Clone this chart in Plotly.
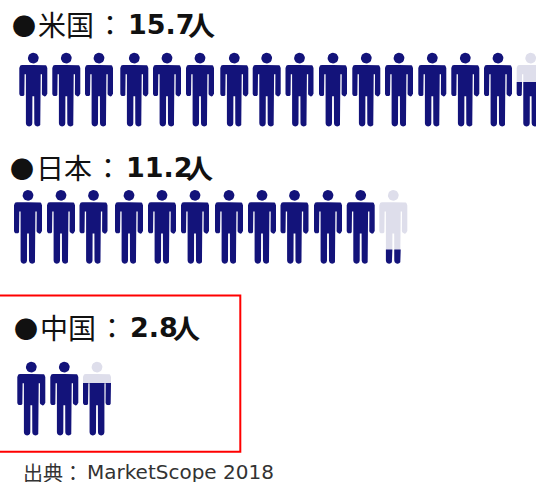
import math
import plotly.graph_objects as go

countries = ["米国", "日本", "中国"]
values = [15.7, 11.2, 2.8]
partial_fill = [0.6, 0.19, 0.71]
row_centers = [
    [33.3, 66.3, 99, 134.3, 167, 200, 234.3, 266.7, 299.5, 333, 366.3, 399, 432.3, 465.3, 498, 530.7],
    [28, 61, 93.5, 129, 162, 195, 229, 262, 294.5, 328, 360.7, 393.3],
    [31.3, 64.3, 97],
]
row_tops = [52.7, 190, 361.7]
label_pos = [(10, 24), (8, 167), (12, 327)]
DARK = "#13137a"
LIGHT = "#dedeeb"
JP = "Noto Sans CJK JP"
LATIN = "DejaVu Sans"


def arc(cx, cy, r, a0, a1, n=6):
    return [(cx + r * math.cos(math.radians(a0 + (a1 - a0) * i / n)),
             cy + r * math.sin(math.radians(a0 + (a1 - a0) * i / n))) for i in range(n + 1)]


def head():
    return arc(0, 5.4, 5.4, 0, 360, 24)


def body_half(side):
    p = [(0, 12.2)]
    p += [(x * side, y) for x, y in arc(11, 15.2, 3, -90, 0)]
    p += [(14 * side, 41)]
    p += [(x * side, y) for x, y in arc(11.3, 41, 2.7, 0, 180)]
    p += [(8.7 * side, 21.5), (7.4 * side, 21.5)]
    p += [(7.4 * side, 70.6)]
    p += [(x * side, y) for x, y in arc(4.2, 70.6, 3.2, 0, 180)]
    p += [(0.9 * side, 43.5), (0, 43.5)]
    return p


def body():
    return body_half(1) + body_half(-1)[::-1]


def clip_below(poly, y0):
    out = []
    for i in range(len(poly)):
        a, b = poly[i], poly[(i + 1) % len(poly)]
        ina, inb = a[1] >= y0, b[1] >= y0
        if ina:
            out.append(a)
        if ina != inb:
            t = (y0 - a[1]) / (b[1] - a[1])
            out.append((a[0] + t * (b[0] - a[0]), y0))
    return out


H = 73.5
fig = go.Figure()


def add_polys(polys, color, name):
    xs, ys = [], []
    for poly, cx, top in polys:
        if not poly:
            continue
        closed = poly + [poly[0]]
        xs += [p[0] + cx for p in closed] + [None]
        ys += [p[1] + top for p in closed] + [None]
    fig.add_trace(go.Scatter(x=xs, y=ys, mode="lines", fill="toself", fillcolor=color,
                             line=dict(width=0, color=color), hoverinfo="skip", name=name))


dark, light = [], []
for r, v in enumerate(values):
    full = int(v)
    top = row_tops[r]
    for i, cx in enumerate(row_centers[r]):
        if i < full:
            dark += [(head(), cx, top), (body(), cx, top)]
        else:
            light += [(head(), cx, top), (body(), cx, top)]
            y0 = H * (1 - partial_fill[r])
            dark += [(clip_below(head(), y0), cx, top), (clip_below(body(), y0), cx, top)]
add_polys(light, LIGHT, "light")
add_polys(dark, DARK, "dark")


def put(x, y, text, size, family, color="#111111", bold=False):
    fig.add_annotation(x=x, y=y, xref="x", yref="y", xanchor="left", yanchor="middle", showarrow=False,
                       text=f"<b>{text}</b>" if bold else text,
                       font=dict(size=size, color=color, family=family))


for c, v, (x, y) in zip(countries, values, label_pos):
    put(x, y, "●", 24, JP)
    put(x + 26, y, c, 28, JP)
    put(x + 84, y, "：", 28, JP)
    put(x + 116, y, str(v), 27, LATIN, bold=True)
    put(x + 116 + 17.2 * (len(str(v)) - 0.5) + 0, y, "人", 27, JP, bold=True)

put(21, 472, "出典：", 20, JP, "#333333")
put(85, 472, "MarketScope 2018", 20, LATIN, "#333333")

fig.add_shape(type="rect", x0=-6, x1=240.3, y0=295.5, y1=451.7, xref="x", yref="y",
              line=dict(color="#ff0000", width=2), fillcolor="rgba(0,0,0,0)")

fig.update_layout(width=536, height=482, margin=dict(l=0, r=0, t=0, b=0), showlegend=False,
                  paper_bgcolor="white", plot_bgcolor="white",
                  xaxis=dict(range=[0, 536], visible=False, fixedrange=True),
                  yaxis=dict(range=[482, 0], visible=False, fixedrange=True))
fig.write_html("out.html", config=dict(displayModeBar=False),
               post_script="document.body.style.margin='0';document.body.style.overflow='hidden';")
